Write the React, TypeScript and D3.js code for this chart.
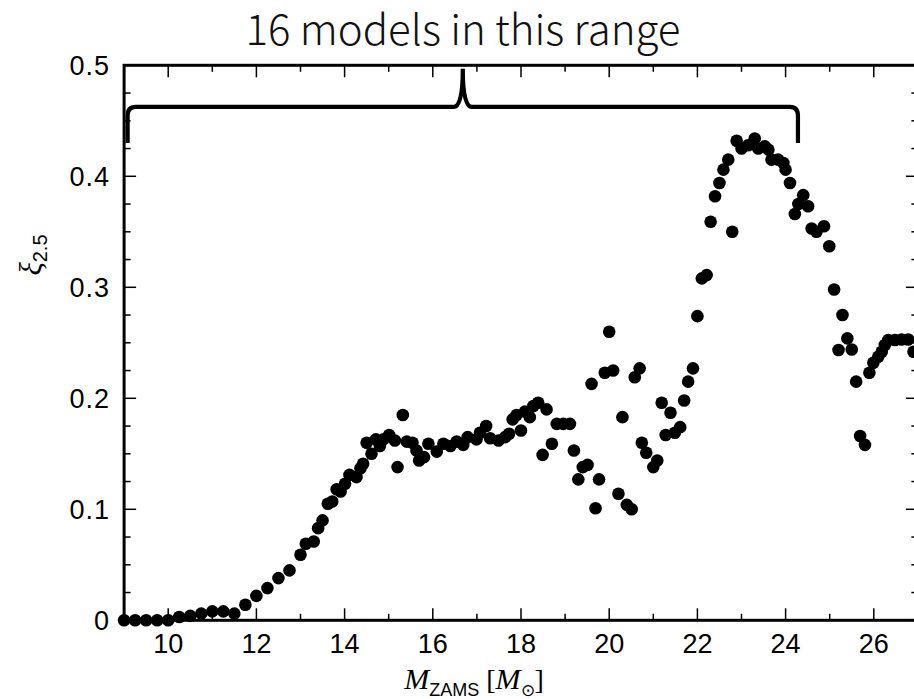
import React from "react";
import * as d3 from "d3";

const massValues: number[] = [
  9.0, 9.25, 9.5, 9.75, 10.0, 10.25, 10.5, 10.75, 11.0, 11.25, 11.5, 11.75,
  12.0, 12.25, 12.5, 12.75, 13.0, 13.12, 13.3, 13.4, 13.5, 13.62, 13.72, 13.82,
  13.91, 14.01, 14.11, 14.27, 14.36, 14.42, 14.5, 14.61, 14.71, 14.8, 14.88,
  15.01, 15.14, 15.2, 15.32, 15.41, 15.54, 15.63, 15.69, 15.8, 15.9, 16.09,
  16.24, 16.4, 16.54, 16.69, 16.79, 16.99, 17.07, 17.21, 17.3, 17.49, 17.64,
  17.73, 17.81, 17.9, 18.0, 18.09, 18.2, 18.28, 18.39, 18.49, 18.58, 18.7,
  18.81, 18.96, 19.11, 19.2, 19.3, 19.4, 19.51, 19.6, 19.69, 19.77, 19.9, 20.0,
  20.09, 20.21, 20.3, 20.4, 20.51, 20.58, 20.69, 20.74, 20.84, 21.0, 21.09,
  21.19, 21.28, 21.39, 21.49, 21.61, 21.7, 21.79, 21.9, 22.0, 22.1, 22.21, 22.3,
  22.4, 22.5, 22.59, 22.7, 22.79, 22.89, 23.0, 23.15, 23.3, 23.38, 23.53, 23.61,
  23.68, 23.83, 23.95, 24.0, 24.1, 24.21, 24.29, 24.4, 24.51, 24.59, 24.7,
  24.87, 24.99, 25.1, 25.2, 25.29, 25.4, 25.5, 25.6, 25.69, 25.8, 25.9, 25.99,
  26.1, 26.18, 26.25, 26.33, 26.48, 26.63, 26.78, 26.9,
];

const xiValues: number[] = [
  0, 0, 0, 0, 0, 0.003, 0.004, 0.006, 0.008, 0.008, 0.006, 0.014,
  0.022, 0.029, 0.038, 0.045, 0.059, 0.069, 0.071, 0.083, 0.09, 0.105, 0.107, 0.118,
  0.116, 0.123, 0.131, 0.129, 0.137, 0.141, 0.16, 0.15, 0.163, 0.157, 0.163,
  0.167, 0.162, 0.138, 0.185, 0.161, 0.16, 0.153, 0.144, 0.147, 0.159, 0.152,
  0.159, 0.157, 0.161, 0.158, 0.165, 0.163, 0.169, 0.175, 0.164, 0.162, 0.165,
  0.168, 0.181, 0.185, 0.171, 0.188, 0.183, 0.193, 0.196, 0.149, 0.19, 0.159,
  0.177, 0.177, 0.177, 0.153, 0.127, 0.138, 0.14, 0.213, 0.101, 0.127, 0.223, 0.26,
  0.225, 0.114, 0.183, 0.104, 0.1, 0.219, 0.227, 0.16, 0.151, 0.138, 0.144,
  0.196, 0.167, 0.187, 0.169, 0.174, 0.198, 0.215, 0.227, 0.274, 0.308, 0.311, 0.359,
  0.382, 0.394, 0.406, 0.415, 0.35, 0.432, 0.425, 0.428, 0.434, 0.425, 0.427, 0.424,
  0.415, 0.415, 0.412, 0.406, 0.394, 0.366, 0.375, 0.383, 0.373, 0.353, 0.35,
  0.355, 0.337, 0.298, 0.2435, 0.275, 0.254, 0.244, 0.215, 0.166, 0.158, 0.223, 0.232,
  0.2375, 0.242, 0.248, 0.2525, 0.2525, 0.253, 0.253, 0.242,
];

const xMajorTicks: number[] = [10, 12, 14, 16, 18, 20, 22, 24, 26];
const xMinorTicks: number[] = [11, 13, 15, 17, 19, 21, 23, 25];
const yMajorTicks: number[] = [0, 0.1, 0.2, 0.3, 0.4, 0.5];
const yTickLabels: string[] = ["0", "0.1", "0.2", "0.3", "0.4", "0.5"];
const xDomain: [number, number] = [9, 27];
const yDomain: [number, number] = [0, 0.5];
const braceRange: [number, number] = [9.08, 24.28];
const braceLevels = { end: 0.43, bar: 0.4625, peak: 0.497 };
const titleText = "16 models in this range";

export default function App() {
  const W = 914;
  const H = 699;
  const left = 124.1;
  const right = 917.9;
  const top = 65.3;
  const bottom = 620.3;

  const x = d3.scaleLinear().domain(xDomain).range([left, right]);
  const y = d3.scaleLinear().domain(yDomain).range([bottom, top]);

  const yMinor = d3.range(0, 0.5001, 0.025).filter(
    (v) => !yMajorTicks.some((m) => Math.abs(m - v) < 1e-6)
  );

  const points = massValues.map((m, i) => ({ m, v: xiValues[i] }));

  const xl = x(braceRange[0]);
  const xr = x(braceRange[1]);
  const xc = x((braceRange[0] + braceRange[1]) / 2);
  const yE = y(braceLevels.end);
  const yB = y(braceLevels.bar);
  const yP = y(braceLevels.peak);
  const p = d3.path();
  p.moveTo(xl, yE);
  p.lineTo(xl, yB + 9);
  p.quadraticCurveTo(xl, yB, xl + 8, yB);
  p.lineTo(xc - 9, yB);
  p.quadraticCurveTo(xc, yB, xc, yP);
  p.quadraticCurveTo(xc, yB, xc + 9, yB);
  p.lineTo(xr - 8, yB);
  p.quadraticCurveTo(xr, yB, xr, yB + 9);
  p.lineTo(xr, yE);

  const tickFont = "'Liberation Sans', Arial, Helvetica, sans-serif";
  const serif = "'Liberation Serif', 'Times New Roman', serif";

  return (
    <svg
      width={W}
      height={H}
      viewBox={`0 0 ${W} ${H}`}
      style={{ position: "absolute", left: 0, top: 0, background: "#fff" }}
    >
      <rect x={0} y={0} width={W} height={H} fill="#fff" />
      <text
        x={463}
        y={45}
        textAnchor="middle"
        fontFamily="'Noto Sans CJK JP Light', 'Noto Sans CJK JP', 'Noto Sans', sans-serif"
        fontWeight={300}
        fontSize={42}
        fill="#111"
      >
        {titleText}
      </text>

      <g>
        {points.map((d, i) => (
          <circle key={i} cx={x(d.m)} cy={y(d.v)} r={6.3} fill="#000" />
        ))}
      </g>

      <path d={p.toString()} fill="none" stroke="#000" strokeWidth={4.2} />

      <g stroke="#000" strokeWidth={1.5}>
        {xMajorTicks.map((t) => (
          <g key={"xM" + t}>
            <line x1={x(t)} x2={x(t)} y1={bottom} y2={bottom - 12} />
            <line x1={x(t)} x2={x(t)} y1={top} y2={top + 12} />
          </g>
        ))}
        {xMinorTicks.map((t) => (
          <g key={"xm" + t}>
            <line x1={x(t)} x2={x(t)} y1={bottom} y2={bottom - 6.5} />
            <line x1={x(t)} x2={x(t)} y1={top} y2={top + 6.5} />
          </g>
        ))}
        {yMajorTicks.map((t) => (
          <g key={"yM" + t}>
            <line x1={left} x2={left + 12} y1={y(t)} y2={y(t)} />
            <line x1={right} x2={right - 12} y1={y(t)} y2={y(t)} />
          </g>
        ))}
        {yMinor.map((t) => (
          <g key={"ym" + t}>
            <line x1={left} x2={left + 6.5} y1={y(t)} y2={y(t)} />
            <line x1={right} x2={right - 6.5} y1={y(t)} y2={y(t)} />
          </g>
        ))}
      </g>

      <rect
        x={left}
        y={top}
        width={right - left}
        height={bottom - top}
        fill="none"
        stroke="#000"
        strokeWidth={3}
      />

      <g fontFamily={tickFont} fontSize={27} fill="#000">
        {xMajorTicks.map((t) => (
          <text key={"xl" + t} x={x(t)} y={653} textAnchor="middle">
            {String(t)}
          </text>
        ))}
        {yMajorTicks.map((t, i) => (
          <text
            key={"yl" + t}
            x={110}
            y={y(t) + 1}
            textAnchor="end"
            dominantBaseline="central"
            letterSpacing={1}
          >
            {yTickLabels[i]}
          </text>
        ))}
      </g>

      <g transform="translate(41,255) rotate(-90)">
        <text textAnchor="middle" fill="#000">
          <tspan fontFamily={serif} fontStyle="italic" fontSize={31}>
            ξ
          </tspan>
          <tspan fontFamily={tickFont} fontSize={20} dy={6}>
            2.5
          </tspan>
        </text>
      </g>

      <text x={474} y={689} textAnchor="middle" fill="#000">
        <tspan fontFamily={serif} fontStyle="italic" fontSize={30}>
          M
        </tspan>
        <tspan fontFamily={tickFont} fontSize={18} dy={7}>
          ZAMS
        </tspan>
        <tspan fontFamily={serif} fontSize={28} dy={-7}>
          {" ["}
        </tspan>
        <tspan fontFamily={serif} fontStyle="italic" fontSize={30}>
          M
        </tspan>
        <tspan fontFamily={serif} fontSize={17} dy={7}>
          ⊙
        </tspan>
        <tspan fontFamily={serif} fontSize={28} dy={-7}>
          ]
        </tspan>
      </text>
    </svg>
  );
}
